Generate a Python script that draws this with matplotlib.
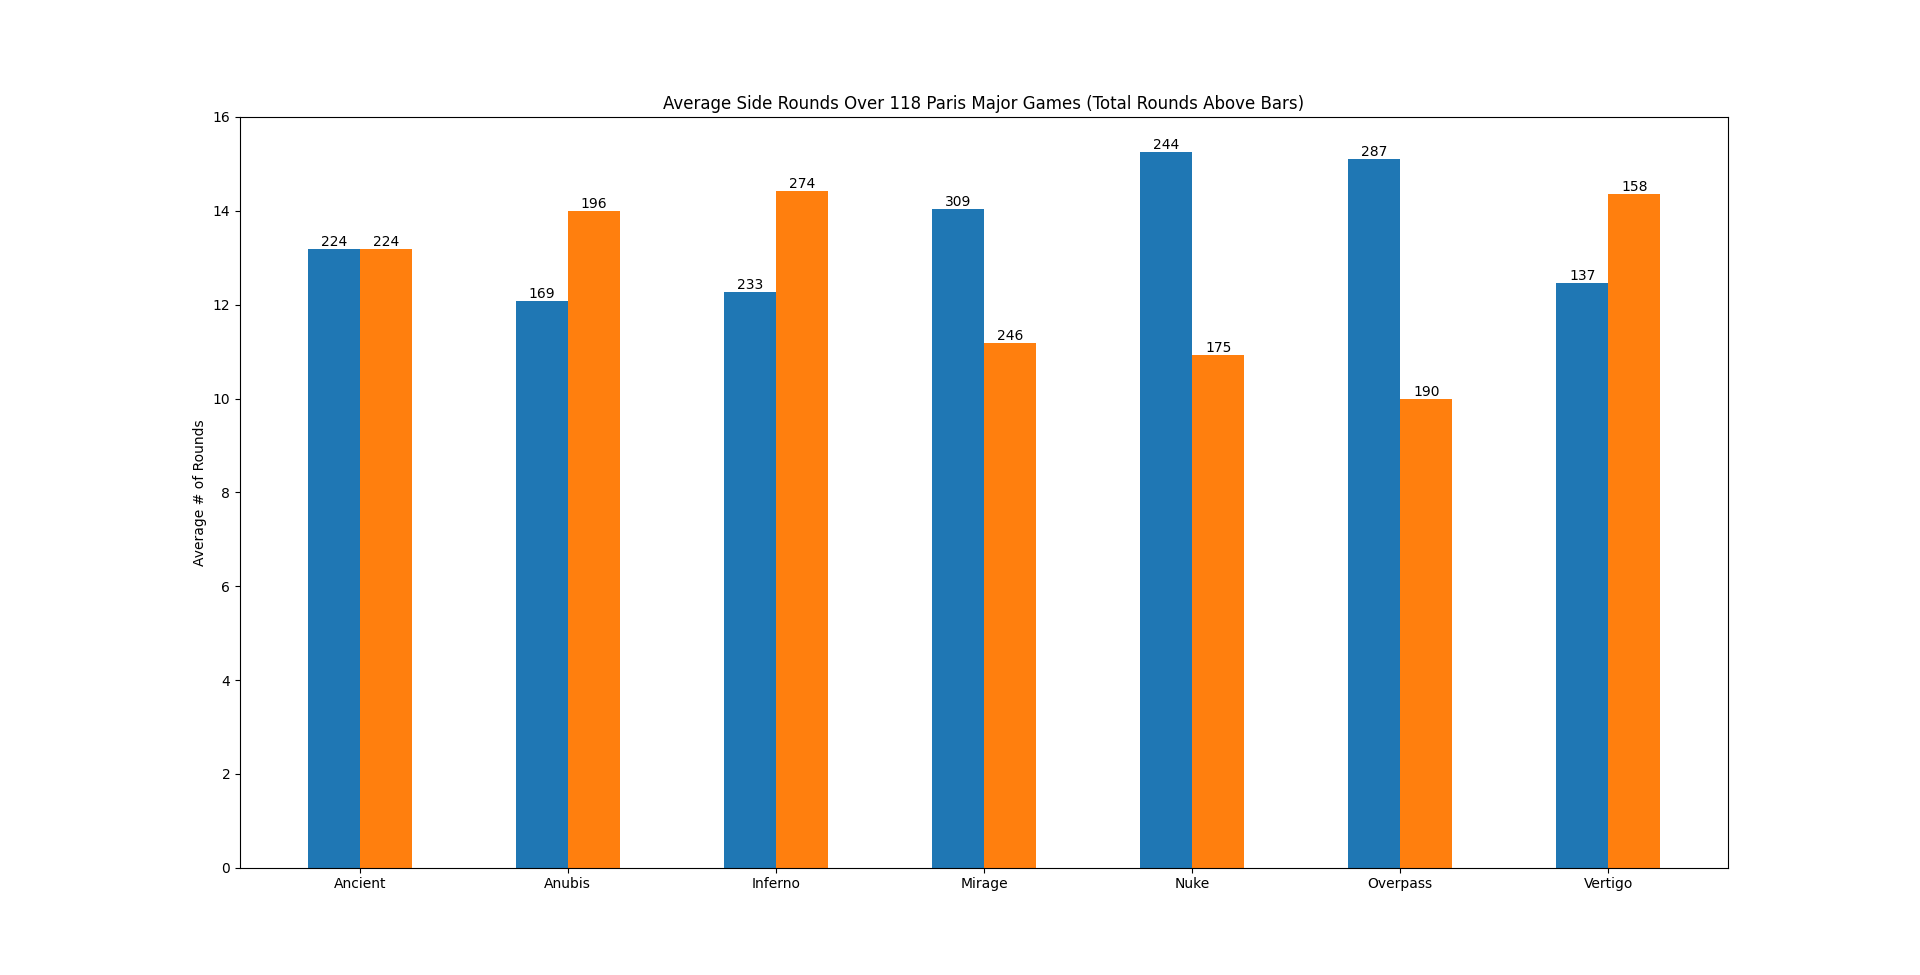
import numpy as np
import matplotlib
matplotlib.use("Agg")
import matplotlib.pyplot as plt

# map names, games played per map, total rounds per side
maps = ["Ancient", "Anubis", "Inferno", "Mirage", "Nuke", "Overpass", "Vertigo"]
games = [17, 14, 19, 22, 16, 19, 11]
ct_rounds = [224, 169, 233, 309, 244, 287, 137]
t_rounds = [224, 196, 274, 246, 175, 190, 158]

ct_avg = np.array(ct_rounds) / np.array(games)
t_avg = np.array(t_rounds) / np.array(games)

fig, ax = plt.subplots(figsize=(19.2, 9.75), dpi=100)

x = np.arange(len(maps))
width = 0.25

bars1 = ax.bar(x - width / 2, ct_avg, width)
bars2 = ax.bar(x + width / 2, t_avg, width)

ax.bar_label(bars1, labels=ct_rounds)
ax.bar_label(bars2, labels=t_rounds)

ax.set_xticks(x)
ax.set_xticklabels(maps)
ax.set_ylim(0, 16)
ax.set_ylabel("Average # of Rounds")
ax.set_title(f"Average Side Rounds Over {sum(games)} Paris Major Games (Total Rounds Above Bars)")

plt.savefig("out.png", dpi=100)
